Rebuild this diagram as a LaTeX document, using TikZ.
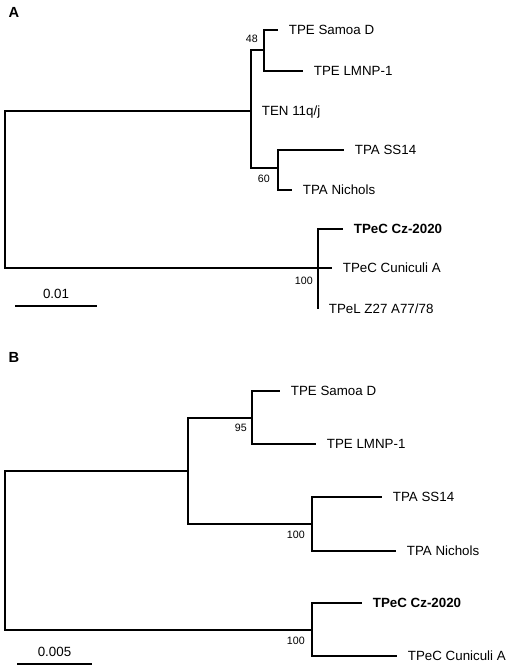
\documentclass[tikz,border=0pt]{standalone}
\usepackage{fontspec}
\setmainfont{Liberation Sans}
\usetikzlibrary{positioning}

\begin{document}
\begin{tikzpicture}[
    x=0.75pt, y=-0.75pt,
    branch/.style={line width=1.4pt},
    leaf/.style={anchor=west, inner xsep=8pt, inner ysep=0pt, text height=7.2pt, text depth=0pt, font=\fontsize{10}{12}\selectfont},
    leafbold/.style={leaf, font=\fontsize{10}{12}\selectfont\bfseries},
    boot/.style={inner sep=0pt, font=\fontsize{8}{10}\selectfont},
    panel/.style={inner sep=0pt, font=\fontsize{11}{13}\selectfont\bfseries},
    scalelab/.style={inner sep=0pt, font=\fontsize{10}{12}\selectfont},
]
    \useasboundingbox (0,0) rectangle (510,670);

    % Panel A
    \node[panel] (labA) at (14,12) {A};
    \coordinate (a0) at (5,189.5);
    \coordinate (a1) at (251,111);
    \coordinate (a2) at (264,50);
    \coordinate (a3) at (278,168);
    \coordinate (a4) at (318,268);
    \node[leaf] (aSamoa) at (278,30) {TPE Samoa D};
    \node[leaf] (aLmnp) at (303,71) {TPE LMNP-1};
    \node[leaf] (aTen) at (251,111) {TEN 11q/j};
    \node[leaf] (aSs) at (344,150) {TPA SS14};
    \node[leaf] (aNich) at (292,190) {TPA Nichols};
    \node[leafbold] (aCz) at (343,229) {TPeC Cz-2020};
    \node[leaf] (aCun) at (332,268) {TPeC Cuniculi A};
    \node[leaf] (aTpel) at (318,309) {TPeL Z27 A77/78};

    \draw[branch] (a0) |- (a1);
    \draw[branch] (a0) |- (a4);
    \draw[branch] (a1) |- (a2);
    \draw[branch] (a1) |- (a3);
    \draw[branch] (a2) |- (aSamoa.west);
    \draw[branch] (a2) |- (aLmnp.west);
    \draw[branch] (a3) |- (aSs.west);
    \draw[branch] (a3) |- (aNich.west);
    \draw[branch] (a4) |- (aCz.west);
    \draw[branch] (a4) -- (aCun.west);
    \draw[branch] (a4) -- (aTpel.west);

    \node[boot, above left=5pt and 4.5pt of a2] (bsA48) {48};
    \node[boot, below left=5pt and 6pt of a3] (bsA60) {60};
    \node[boot, below left=6.75pt and 3.75pt of a4] (bsA100) {100};

    \coordinate (sa1) at (15,306);
    \coordinate (sa2) at (97,306);
    \draw[branch] (sa1) -- (sa2) node[midway, above=5pt, scalelab] (saLab) {0.01};

    % Panel B
    \node[panel] (labB) at (14,357) {B};
    \coordinate (b0) at (5,550.5);
    \coordinate (b1) at (188,471);
    \coordinate (b2) at (252,418);
    \coordinate (b3) at (312,524);
    \coordinate (b4) at (312,630);
    \node[leaf] (bSamoa) at (280,391) {TPE Samoa D};
    \node[leaf] (bLmnp) at (316,444) {TPE LMNP-1};
    \node[leaf] (bSs) at (382,497) {TPA SS14};
    \node[leaf] (bNich) at (396,551) {TPA Nichols};
    \node[leafbold] (bCz) at (362,603) {TPeC Cz-2020};
    \node[leaf] (bCun) at (397,656) {TPeC Cuniculi A};

    \draw[branch] (b0) |- (b1);
    \draw[branch] (b0) |- (b4);
    \draw[branch] (b1) |- (b2);
    \draw[branch] (b1) |- (b3);
    \draw[branch] (b2) |- (bSamoa.west);
    \draw[branch] (b2) |- (bLmnp.west);
    \draw[branch] (b3) |- (bSs.west);
    \draw[branch] (b3) |- (bNich.west);
    \draw[branch] (b4) |- (bCz.west);
    \draw[branch] (b4) |- (bCun.west);

    \node[boot, below left=4.5pt and 3.75pt of b2] (bsB95) {95};
    \node[boot, below left=5.25pt and 5.25pt of b3] (bsB100a) {100};
    \node[boot, below left=5.25pt and 5.25pt of b4] (bsB100b) {100};

    \coordinate (sb1) at (17,664);
    \coordinate (sb2) at (92,664);
    \draw[branch] (sb1) -- (sb2) node[midway, above=5pt, scalelab] (sbLab) {0.005};
\end{tikzpicture}
\end{document}
